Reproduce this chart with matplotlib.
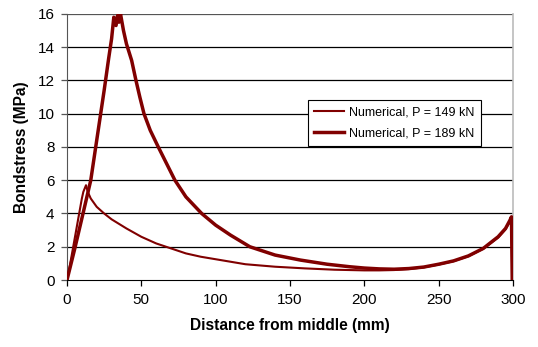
import matplotlib
matplotlib.use("Agg")
import matplotlib.pyplot as plt

plt.rcParams['font.family'] = ['Liberation Sans', 'DejaVu Sans']

# Series 1: P = 149 kN
x_149 = [0, 2, 4, 6, 8, 10, 11, 12.8, 14, 16, 20, 25, 30, 40, 50, 60, 70, 80, 90,
         100, 120, 140, 160, 180, 200, 210, 220, 230, 240, 250, 260, 270, 280,
         290, 295, 298, 299, 299.5]
y_149 = [0, 0.9, 1.9, 2.9, 3.9, 4.9, 5.3, 5.7, 5.3, 4.9, 4.4, 4.0, 3.65, 3.1, 2.6,
         2.2, 1.9, 1.6, 1.4, 1.25, 0.95, 0.8, 0.7, 0.62, 0.58, 0.58, 0.6, 0.66,
         0.76, 0.93, 1.13, 1.43, 1.88, 2.55, 3.05, 3.55, 3.75, 0]

# Series 2: P = 189 kN
x_189 = [0, 5, 10, 16, 19, 22, 25, 28, 30, 31.5, 33, 34, 35, 36, 38, 40, 43.5,
         46.4, 49, 51.8, 56, 61.4, 67, 72.6, 80, 90.6, 100, 110, 123, 140, 157, 175,
         190, 200, 210, 220, 230, 240, 250, 260, 270, 280, 290, 295, 298, 299,
         299.5]
y_189 = [0, 1.8, 3.7, 6.0, 7.8, 9.6, 11.4, 13.3, 14.5, 15.8, 15.3, 15.9, 15.5,
         16.0, 15.0, 14.2, 13.2, 12.0, 11.0, 10.0, 9.0, 8.0, 7.0, 6.0, 5.0, 4.0, 3.3,
         2.7, 2.0, 1.5, 1.2, 0.95, 0.8, 0.72, 0.67, 0.65, 0.69, 0.78, 0.95, 1.15,
         1.45, 1.9, 2.6, 3.1, 3.6, 3.8, 0]

x_ticks = [0, 50, 100, 150, 200, 250, 300]
y_ticks = [0, 2, 4, 6, 8, 10, 12, 14, 16]

fig = plt.figure(figsize=(5.38, 3.47), dpi=100)
ax = fig.add_axes([0.1245, 0.193, 0.829, 0.767])

color = '#800000'
ax.plot(x_149, y_149, color=color, lw=1.5, label='Numerical, P = 149 kN', zorder=3)
ax.plot(x_189, y_189, color=color, lw=2.5, label='Numerical, P = 189 kN', zorder=3)

ax.set_xlim(0, 300)
ax.set_ylim(0, 16)
ax.set_xticks(x_ticks)
ax.set_yticks(y_ticks)

for v in y_ticks[1:]:
    ax.axhline(v, color='#555555' if v == 16 else 'black', lw=0.9, zorder=1)

ax.spines['top'].set_visible(False)
ax.spines['right'].set_color('#bbbbbb')
ax.spines['right'].set_linewidth(1.2)
ax.spines['left'].set_color('#555555')
ax.spines['bottom'].set_color('black')
ax.tick_params(axis='both', direction='out', length=4, width=0.9,
               labelsize=11, colors='black', pad=5)
ax.tick_params(axis='y', color='#555555')

ax.set_xlabel('Distance from middle (mm)', fontsize=11.2, fontweight='bold', labelpad=8)
ax.set_ylabel('Bondstress (MPa)', fontsize=11.2, fontweight='bold', labelpad=6)

leg = ax.legend(loc='upper left', bbox_to_anchor=(0.54, 0.676), fontsize=9,
                frameon=True, fancybox=False, edgecolor='black', framealpha=1,
                handlelength=2.4, borderpad=0.5, labelspacing=0.75, handletextpad=0.4,
                borderaxespad=0)
leg.get_frame().set_linewidth(0.8)
leg.set_zorder(5)

fig.savefig('out.png', dpi=100)
